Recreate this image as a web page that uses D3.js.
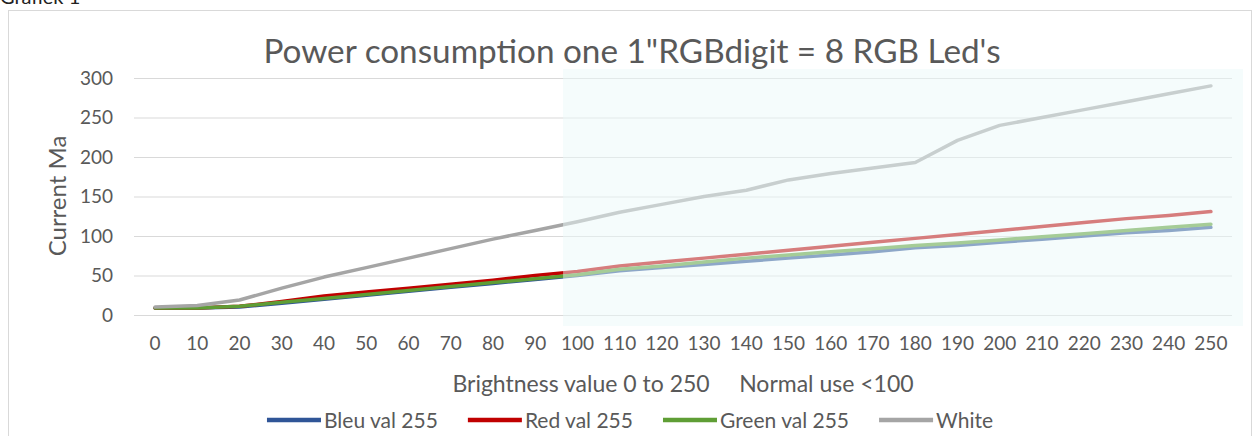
<!DOCTYPE html>
<html>
<head>
<meta charset="utf-8">
<style>
  body { margin: 0; background: #fff; }
  svg text { font-family: Lato, "Open Sans", sans-serif; fill: #595959; }
</style>
</head>
<body>
<svg id="chart" width="1256" height="436"></svg>
<script src="https://d3js.org/d3.v7.min.js"></script>
<script>
// data
var brightness = [0, 10, 20, 30, 40, 50, 60, 70, 80, 90, 100, 110, 120, 130, 140, 150, 160, 170, 180, 190, 200, 210, 220, 230, 240, 250];
var bleu  = [9, 9, 10, 15, 20, 25, 30, 35, 40, 45, 50, 56, 60, 64, 68, 72, 76, 80, 85, 88, 92, 96, 100, 104, 107, 111];
var red   = [9, 9, 11, 17, 24, 29, 34, 39, 44, 50, 55, 62, 67, 72, 77, 82, 87, 92, 97, 102, 107, 112, 117, 122, 126, 131];
var green = [9, 9, 11, 16, 21, 26, 31, 36, 41, 46, 51, 58, 62, 67, 72, 76, 80, 84, 88, 91, 95, 99, 103, 107, 111, 115];
var white = [10, 12, 19, 34, 48, 60, 72, 84, 96, 107, 118, 130, 140, 150, 158, 171, 179, 186, 193, 221, 240, 250, 260, 270, 280, 290];
var yTicks = [0, 50, 100, 150, 200, 250, 300];

var series = [
  {name: "Bleu val 255", values: bleu, color: "#2f5597"},
  {name: "Red val 255", values: red, color: "#c00000"},
  {name: "Green val 255", values: green, color: "#5f9e35"},
  {name: "White", values: white, color: "#a5a5a5"}
];

var svg = d3.select("#chart");

// caption above the chart frame (cut off by the page edge, as in the screenshot)
svg.append("text")
  .attr("x", 0).attr("y", 4)
  .style("font-size", "20px").style("fill", "#222")
  .text("Grafiek 1");

// chart frame
svg.append("rect")
  .attr("x", 8.5).attr("y", 10.5)
  .attr("width", 1243).attr("height", 440)
  .attr("fill", "#fff").attr("stroke", "#d9d9d9");

var x = d3.scaleBand().domain(brightness).range([134, 1232]).padding(0);
var y = d3.scaleLinear().domain([0, 300]).range([315, 78]);
var cx = function(d) { return x(d) + x.bandwidth() / 2; };

// gridlines
svg.append("g").selectAll("line")
  .data(yTicks)
  .enter().append("line")
    .attr("x1", 134).attr("x2", 1232)
    .attr("y1", function(d) { return y(d) + 0.5; })
    .attr("y2", function(d) { return y(d) + 0.5; })
    .attr("stroke", "#d9d9d9").attr("stroke-width", 1.2);

// y tick labels
svg.append("g").selectAll("text")
  .data(yTicks)
  .enter().append("text")
    .attr("x", 113)
    .attr("y", function(d) { return y(d); })
    .attr("dy", "0.36em")
    .attr("text-anchor", "end")
    .style("font-size", "19px")
    .text(function(d) { return d; });

// x tick labels
svg.append("g").selectAll("text")
  .data(brightness)
  .enter().append("text")
    .attr("x", cx)
    .attr("y", 343)
    .attr("dy", "0.36em")
    .attr("text-anchor", "middle")
    .style("font-size", "19px")
    .text(function(d) { return d; });

// lines
var line = d3.line()
  .x(function(d, i) { return cx(brightness[i]); })
  .y(function(d) { return y(d); });

svg.append("g").selectAll("path")
  .data(series)
  .enter().append("path")
    .attr("d", function(s) { return line(s.values); })
    .attr("fill", "none")
    .attr("stroke", function(s) { return s.color; })
    .attr("stroke-width", 3.5)
    .attr("stroke-linejoin", "round")
    .attr("stroke-linecap", "round");

// translucent highlight over the "normal use" part
var hx = cx(90) + x.step() * 0.66;
svg.append("rect")
  .attr("x", hx).attr("y", 69)
  .attr("width", 1243 - hx).attr("height", 257)
  .attr("fill", "rgb(235,249,249)").attr("fill-opacity", 0.5);

// title
svg.append("text")
  .attr("x", 632).attr("y", 63)
  .attr("text-anchor", "middle")
  .style("font-size", "33.3px")
  .text("Power consumption one 1\"RGBdigit = 8 RGB Led's");

// axis titles
svg.append("text")
  .attr("transform", "translate(66,196) rotate(-90)")
  .attr("text-anchor", "middle")
  .style("font-size", "24px")
  .text("Current Ma");

svg.append("text")
  .attr("x", 683).attr("y", 384)
  .attr("dy", "0.36em")
  .attr("text-anchor", "middle")
  .style("font-size", "23px")
  .style("white-space", "pre")
  .text("Brightness value 0 to 250     Normal use <100");

// legend, centred under the chart
var legend = svg.append("g");
var lx = 0;
series.forEach(function(s) {
  var g = legend.append("g").attr("transform", "translate(" + lx + ",0)");
  g.append("line")
    .attr("x1", 0).attr("x2", 54).attr("y1", 0).attr("y2", 0)
    .attr("stroke", s.color).attr("stroke-width", 4.5);
  var t = g.append("text")
    .attr("x", 57).attr("dy", "0.36em")
    .style("font-size", "21px")
    .text(s.name);
  lx += 57 + t.node().getComputedTextLength() + 30;
});
lx -= 30;
legend.attr("transform", "translate(" + (630 - lx / 2) + ",420)");
</script>
</body>
</html>
